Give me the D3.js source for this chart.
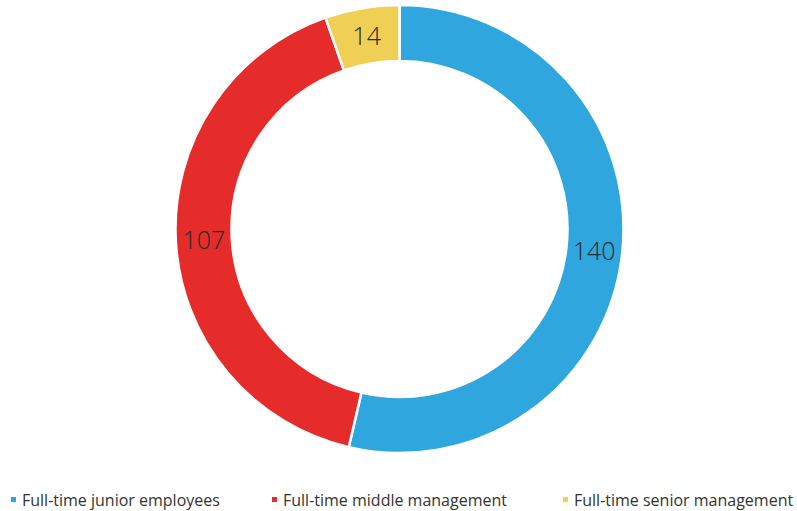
<!DOCTYPE html>
<html><head><meta charset="utf-8">
<script src="https://cdn.jsdelivr.net/npm/d3@7"></script>
<style>body{margin:0;background:#fff;}svg{display:block;}</style>
</head><body>
<svg id="c" width="797" height="511"></svg>
<script>
const categories = ["Full-time junior employees", "Full-time middle management", "Full-time senior management"];
const values = [140, 107, 14];
const colors = ["#2fa6de", "#e62b2b", "#f0cf55"];

const svg = d3.select("#c");
const cx = 399.5, cy = 229, outerR = 224, innerR = 168;
const g = svg.append("g").attr("transform", `translate(${cx},${cy})`);
const pie = d3.pie().sort(null).value(d => d)(values);
const arc = d3.arc().innerRadius(innerR).outerRadius(outerR);
g.selectAll("path").data(pie).join("path")
  .attr("d", arc).attr("fill", (d,i) => colors[i])
  .attr("stroke", "#fff").attr("stroke-width", 2.5);
g.selectAll("text").data(pie).join("text")
  .attr("transform", d => `translate(${arc.centroid(d)})`)
  .attr("text-anchor", "middle").attr("dy", "0.36em")
  .attr("font-family", "Open Sans, sans-serif").attr("font-weight", 300)
  .attr("font-size", 25).attr("fill", "#2a2a2a")
  .text(d => d.data);

const legX = [10, 271, 562];
const lg = svg.selectAll("g.leg").data(categories).join("g").attr("class","leg")
  .attr("transform", (d,i) => `translate(${legX[i]},506)`);
lg.append("rect").attr("x", 1).attr("y", -9).attr("width", 5).attr("height", 5)
  .attr("fill", (d,i) => colors[i]);
lg.append("text").attr("x", 12).attr("y", 0)
  .attr("font-family", "Open Sans, sans-serif").attr("font-size", 16).attr("fill", "#333")
  .text(d => d);
</script>
</body></html>
